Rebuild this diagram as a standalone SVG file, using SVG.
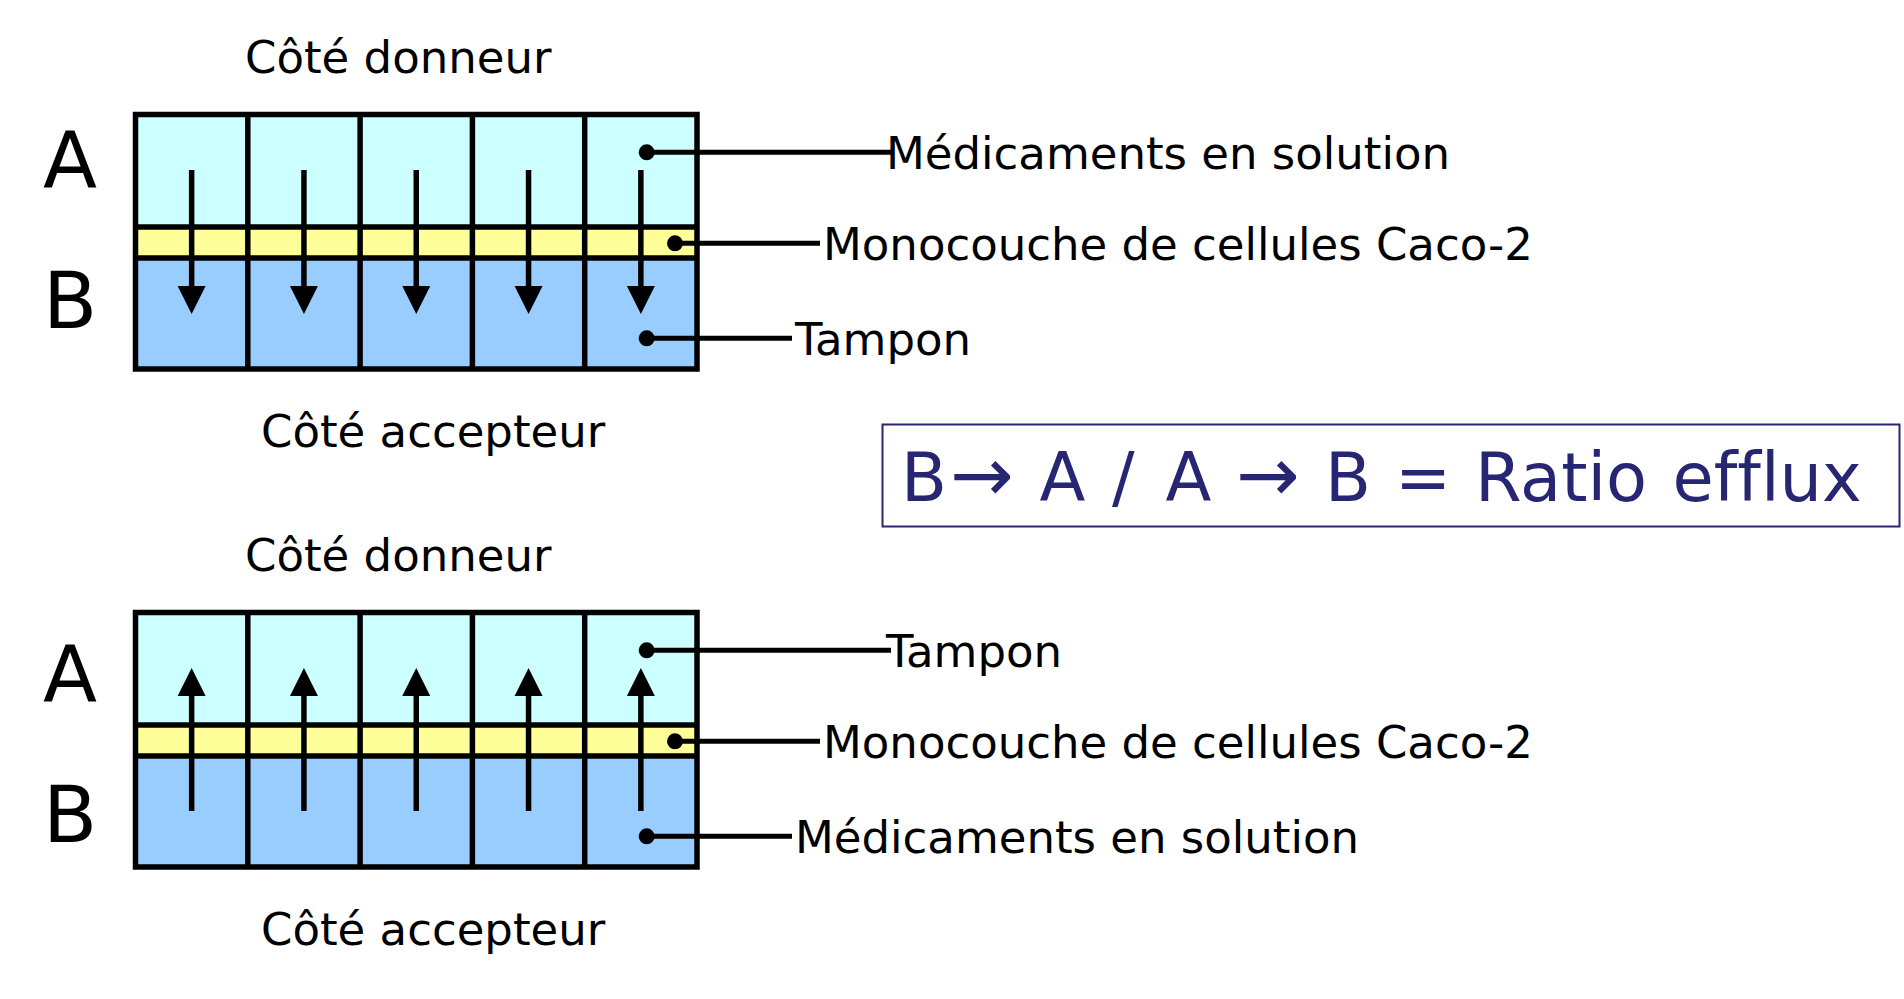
<svg xmlns="http://www.w3.org/2000/svg" width="1904" height="999" viewBox="0 0 1904 999">
<defs>
<style>
.t{font-family:"DejaVu Sans",Verdana,sans-serif;fill:#000}
.lbl{font-size:45px}
.big{font-size:79px}
.ln{stroke:#000;stroke-width:5.5;fill:none}
.lead{stroke:#000;stroke-width:5}
.dot{fill:#000}
.ratio{font-family:"DejaVu Sans",Verdana,sans-serif;font-size:67px;fill:#262673;font-variant-ligatures:none}
.arr{font-size:76px}
</style>
<g id="wells">
<rect x="135.5" y="114.5" width="561.5" height="112.5" fill="#CCFFFF"/>
<rect x="135.5" y="227" width="561.5" height="31" fill="#FFFF99"/>
<rect x="135.5" y="258" width="561.5" height="111" fill="#99CCFF"/>
<rect x="135.5" y="114.5" width="561.5" height="254.5" class="ln"/>
<line x1="135.5" y1="227" x2="697" y2="227" class="ln"/>
<line x1="135.5" y1="258" x2="697" y2="258" class="ln"/>
<line x1="247.8" y1="114.5" x2="247.8" y2="369" class="ln"/>
<line x1="360.1" y1="114.5" x2="360.1" y2="369" class="ln"/>
<line x1="472.4" y1="114.5" x2="472.4" y2="369" class="ln"/>
<line x1="584.7" y1="114.5" x2="584.7" y2="369" class="ln"/>
</g>
<g id="down">
<line x1="0" y1="170" x2="0" y2="290" class="ln"/>
<polygon points="-14,286 14,286 0,314" fill="#000"/>
</g>
<g id="up">
<line x1="0" y1="811" x2="0" y2="692" class="ln"/>
<polygon points="-14,696 14,696 0,668" fill="#000"/>
</g>
</defs>

<g id="panel-top">
<text class="t lbl" x="245" y="72.5">Côté donneur</text>
<text class="t big" x="43" y="188">A</text>
<text class="t big" x="43" y="328">B</text>
<use href="#wells"/>
<text class="t lbl" x="261" y="447">Côté accepteur</text>
</g>

<g id="panel-bottom">
<text class="t lbl" x="245" y="570.5">Côté donneur</text>
<text class="t big" x="43" y="701.5">A</text>
<text class="t big" x="43" y="842">B</text>
<use href="#wells" y="498"/>
<text class="t lbl" x="261" y="945">Côté accepteur</text>
</g>

<g id="connectors">
<use href="#down" x="191.65"/>
<use href="#down" x="303.95"/>
<use href="#down" x="416.25"/>
<use href="#down" x="528.55"/>
<use href="#down" x="640.85"/>
<use href="#up" x="191.65"/>
<use href="#up" x="303.95"/>
<use href="#up" x="416.25"/>
<use href="#up" x="528.55"/>
<use href="#up" x="640.85"/>

<circle cx="646.7" cy="152.3" r="8" class="dot"/>
<line x1="646.7" y1="152.3" x2="891" y2="152.3" class="lead"/>
<circle cx="675" cy="243.3" r="8" class="dot"/>
<line x1="675" y1="243.3" x2="820" y2="243.3" class="lead"/>
<circle cx="646.7" cy="338.3" r="8" class="dot"/>
<line x1="646.7" y1="338.3" x2="792" y2="338.3" class="lead"/>

<circle cx="646.7" cy="650.3" r="8" class="dot"/>
<line x1="646.7" y1="650.3" x2="891" y2="650.3" class="lead"/>
<circle cx="675" cy="741.3" r="8" class="dot"/>
<line x1="675" y1="741.3" x2="820" y2="741.3" class="lead"/>
<circle cx="646.7" cy="836.3" r="8" class="dot"/>
<line x1="646.7" y1="836.3" x2="792" y2="836.3" class="lead"/>
</g>

<g id="labels">
<text class="t lbl" x="886" y="168.5">Médicaments en solution</text>
<text class="t lbl" x="823" y="259.5">Monocouche de cellules Caco-2</text>
<text class="t lbl" x="795" y="354.5">Tampon</text>
<text class="t lbl" x="886" y="666.5">Tampon</text>
<text class="t lbl" x="823" y="757.5">Monocouche de cellules Caco-2</text>
<text class="t lbl" x="795" y="852.5">Médicaments en solution</text>
</g>

<g id="ratio">
<rect x="882.5" y="424.5" width="1017" height="102" fill="#fff" stroke="#262673" stroke-width="2"/>
<text class="ratio" y="501"><tspan x="901">B</tspan><tspan class="arr" x="950">→</tspan><tspan x="1039.5">A</tspan><tspan x="1112">/</tspan><tspan x="1165.5">A</tspan><tspan class="arr" x="1236">→</tspan><tspan x="1325">B</tspan><tspan x="1395">=</tspan><tspan x="1475">Ratio</tspan><tspan x="1672.5">efflux</tspan></text>
</g>
</svg>
